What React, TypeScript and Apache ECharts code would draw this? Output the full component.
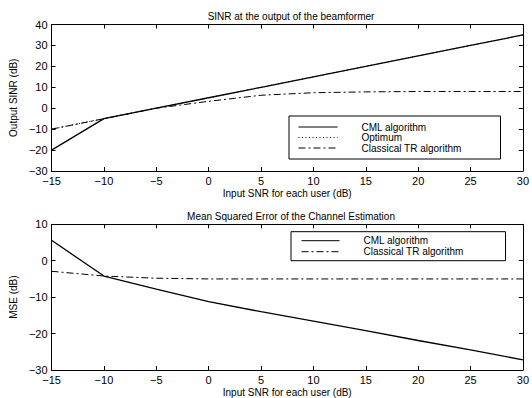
import React, { useEffect, useRef } from "react";
import * as echarts from "echarts";

const snr = [-15, -10, -5, 0, 5, 10, 15, 20, 25, 30];
const sinrCml = [-20, -5, 0, 5, 10, 15, 20, 25, 30, 35];
const sinrOpt = [-10, -5, 0, 5, 10, 15, 20, 25, 30, 35];
const sinrTr = [-10, -5, 0, 3.3, 6.2, 7.4, 7.8, 8, 8, 8];
const mseCml = [5.6, -4.2, -7.8, -11.2, -14.0, -16.6, -19.2, -21.9, -24.5, -27.2];
const mseTr = [-2.9, -4.2, -4.8, -5, -5, -5, -5, -5, -5, -5];
const xTicks = [-15, -10, -5, 0, 5, 10, 15, 20, 25, 30];
const sinrTicks = [-30, -20, -10, 0, 10, 20, 30, 40];
const mseTicks = [-30, -20, -10, 0, 10];

const FONT = "Liberation Sans";
const BLACK = "#000";
const DASHDOT = [7, 3, 2, 3];
const DOTTED = [1, 2.5];

const fmt = (v: number) => (v < 0 ? "\u2212" + Math.abs(v) : String(v));

function xAxes(grid: number) {
  const base = {
    type: "value",
    gridIndex: grid,
    min: xTicks[0],
    max: xTicks[xTicks.length - 1],
    interval: xTicks[1] - xTicks[0],
    splitLine: { show: false },
    axisLine: { show: true, onZero: false, lineStyle: { color: BLACK, width: 1 } },
    axisTick: { show: true, inside: true, length: 4, lineStyle: { color: BLACK } },
  };
  return [
    {
      ...base,
      position: "bottom",
      axisLabel: { show: true, formatter: fmt, color: BLACK, fontSize: 11, fontFamily: FONT, margin: 4 },
      name: "Input SNR for each user (dB)",
      nameLocation: "middle",
      nameGap: 17,
      nameTextStyle: { color: BLACK, fontSize: 10, fontFamily: FONT },
    },
    { ...base, position: "top", axisLabel: { show: false } },
  ];
}

function yAxes(grid: number, ticks: number[], name: string) {
  const base = {
    type: "value",
    gridIndex: grid,
    min: ticks[0],
    max: ticks[ticks.length - 1],
    interval: ticks[1] - ticks[0],
    splitLine: { show: false },
    axisLine: { show: true, onZero: false, lineStyle: { color: BLACK, width: 1 } },
    axisTick: { show: true, inside: true, length: 4, lineStyle: { color: BLACK } },
  };
  return [
    {
      ...base,
      position: "left",
      axisLabel: { show: true, formatter: fmt, color: BLACK, fontSize: 11, fontFamily: FONT, margin: 4 },
      name,
      nameLocation: "middle",
      nameGap: 28,
      nameTextStyle: { color: BLACK, fontSize: 10, fontFamily: FONT },
    },
    { ...base, position: "right", axisLabel: { show: false } },
  ];
}

function line(name: string, xi: number, yi: number, ys: number[], type: any, width = 1.2) {
  return {
    name,
    type: "line",
    xAxisIndex: xi,
    yAxisIndex: yi,
    data: snr.map((x, i) => [x, ys[i]]),
    symbol: "none",
    showSymbol: false,
    lineStyle: { color: BLACK, width, type },
    itemStyle: { color: BLACK },
    silent: true,
  };
}

export default function App() {
  const ref = useRef<HTMLDivElement>(null);
  useEffect(() => {
    document.body.style.margin = "0";
    const chart = echarts.init(ref.current!, undefined, { renderer: "svg" });
    const legendText = { color: BLACK, fontSize: 10, fontFamily: FONT, padding: [0, 0, 0, 19] };
    const legendCommon = {
      orient: "vertical",
      itemHeight: 10,
      borderColor: BLACK,
      borderWidth: 1,
      backgroundColor: "#fff",
      textStyle: legendText,
      selectedMode: false,
      itemStyle: { opacity: 0 },
      lineStyle: { width: 1 },
    };
    chart.setOption({
      animation: false,
      backgroundColor: "#fff",
      textStyle: { fontFamily: FONT },
      title: [
        {
          text: "SINR at the output of the beamformer",
          left: 286,
          top: 6,
          textAlign: "center",
          textStyle: { color: BLACK, fontSize: 10, fontWeight: "normal", fontFamily: FONT },
        },
        {
          text: "Mean Squared Error of the Channel Estimation",
          left: 286,
          top: 206,
          textAlign: "center",
          textStyle: { color: BLACK, fontSize: 10, fontWeight: "normal", fontFamily: FONT },
        },
      ],
      grid: [
        { left: 47.5, right: 7, top: 24.5, height: 146.5 },
        { left: 47.5, right: 7, top: 224.3, height: 146.4 },
      ],
      xAxis: [...xAxes(0), ...xAxes(1)],
      yAxis: [
        ...yAxes(0, sinrTicks, "Output SINR (dB)"),
        ...yAxes(1, mseTicks, "MSE (dB)"),
      ],
      legend: [
        {
          ...legendCommon,
          data: ["CML algorithm", "Optimum", "Classical TR algorithm"],
          left: 289,
          top: 116,
          itemWidth: 39,
          itemGap: 0.5,
          padding: [6, 39, 6, 9],
        },
        {
          ...legendCommon,
          data: ["CML algorithm", "Classical TR algorithm"],
          left: 291,
          top: 231.7,
          itemWidth: 38,
          itemGap: 1,
          padding: [4, 42, 4, 10],
        },
      ],
      series: [
        line("CML algorithm", 0, 0, sinrCml, "solid", 1.3),
        line("Optimum", 0, 0, sinrOpt, DOTTED, 1),
        line("Classical TR algorithm", 0, 0, sinrTr, DASHDOT, 1),
        line("CML algorithm", 2, 2, mseCml, "solid", 1.3),
        line("Classical TR algorithm", 2, 2, mseTr, DASHDOT, 1),
      ],
    });
    return () => chart.dispose();
  }, []);
  return <div ref={ref} style={{ width: 532, height: 398 }} />;
}
